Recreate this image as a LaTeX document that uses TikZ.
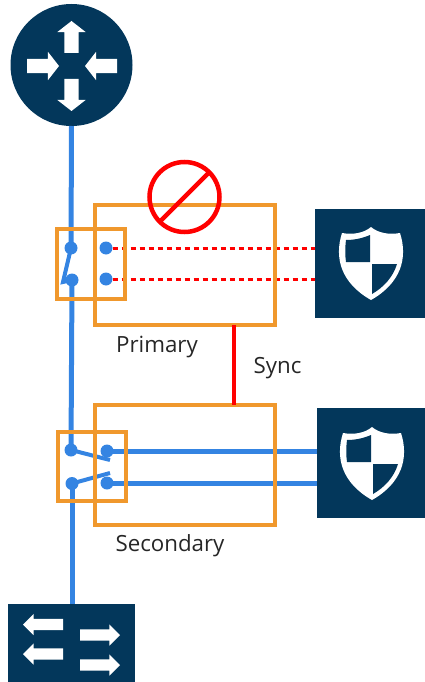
\documentclass[tikz,border=0pt]{standalone}
\usepackage{fontspec}
\setmainfont{Open Sans}
\usetikzlibrary{shapes.arrows, positioning}
\definecolor{navy}{HTML}{03375B}
\definecolor{linkblue}{HTML}{3484E2}
\definecolor{boxorange}{HTML}{F0982D}
\tikzset{
    device/.style={rectangle, fill=navy, outer sep=0pt, inner sep=0pt},
    hugebox/.style={rectangle, draw=boxorange, line width=3.5pt, outer sep=0pt, inner sep=0pt, minimum width=180pt, minimum height=120pt},
    switchbox/.style={rectangle, draw=boxorange, line width=3.5pt, outer sep=0pt, inner sep=0pt, minimum width=68pt, minimum height=70pt},
    port/.style={circle, fill=linkblue, minimum size=13pt, inner sep=0pt, outer sep=0pt},
    bluelink/.style={draw=linkblue, line width=5pt},
    dashedlink/.style={draw=red, line width=3pt, dash pattern=on 5pt off 4pt},
    routerarrow/.style={single arrow, fill=white, inner sep=7pt, outer sep=0pt, single arrow head extend=7pt, single arrow tip angle=104, minimum height=32pt, anchor=tip},
    flowarrow/.style={single arrow, fill=white, inner sep=5.5pt, outer sep=0pt, single arrow head extend=5pt, single arrow tip angle=90, minimum height=40pt, anchor=tip},
    caption/.style={font=\fontsize{22.3}{26}\selectfont, text=black!85, inner sep=0pt, anchor=base},
    shield/.pic={
        \fill[white] (0,-36) .. controls (-7,-30) and (-18,-28) .. (-29,-30) .. controls (-37,-5) and (-30,20) .. (0,37)
            .. controls (30,20) and (37,-5) .. (29,-30) .. controls (18,-28) and (7,-30) .. (0,-36) -- cycle;
        \fill[navy] (-1,-28) .. controls (-8,-25) and (-16,-23) .. (-25,-23) .. controls (-26,-15) and (-26,-8) .. (-25,-1) -- (-1,-1) -- cycle;
        \fill[navy] (1,1) -- (26,1) .. controls (22,14) and (13,24) .. (1,31) -- cycle;
    },
}
\begin{document}
\begin{tikzpicture}[x=1pt,y=-1pt]
\useasboundingbox (0,0) rectangle (425,682);
% devices
\node[device,circle,minimum size=122pt] (router) at (71.5,65) {};
\node[routerarrow,rotate=90] (rup) at (71.5,21) {};
\node[routerarrow,rotate=-90] (rdown) at (71.5,111) {};
\node[routerarrow] (rright) at (59,66) {};
\node[routerarrow,rotate=180] (rleft) at (85,66) {};
\node[device,minimum width=110pt,minimum height=109pt] (fwa) at (370,263.5) {};
\pic at (371,263) {shield};
\node[device,minimum width=108pt,minimum height=110pt] (fwb) at (371,463) {};
\pic at (372,463) {shield};
\node[device,minimum width=127pt,minimum height=78pt] (lan) at (71.5,643) {};
\node[flowarrow,rotate=180] (la) at (23,624.5) {};
\node[flowarrow,rotate=180] (lb) at (23,654) {};
\node[flowarrow] (lc) at (120,635) {};
\node[flowarrow] (ld) at (120,665) {};
% ports
\node[port] (pl1) at (71,248) {};
\node[port] (pl2) at (72,280) {};
\node[port] (pr1) at (106,248) {};
\node[port] (pr2) at (106,279) {};
\node[port] (sl1) at (71,450) {};
\node[port] (sl2) at (72,483.5) {};
\node[port] (sr1) at (107,451) {};
\node[port] (sr2) at (107,483) {};
\coordinate (parm) at (63,282);
\coordinate (sarma) at (110,460);
\coordinate (sarmb) at (110,473);
% links
\draw[bluelink] (router.south) -- (pl1.center);
\draw[bluelink,line width=4pt] (pl1.center) -- (parm) -- (pl2.center);
\draw[bluelink] (pl2.center) -- (sl1.center);
\draw[bluelink,line width=4pt] (sl1.center) -- (sarma);
\draw[bluelink,line width=4pt] (sl2.center) -- (sarmb);
\draw[bluelink] (sl2.center) -- (lan.north -| sl2);
\draw[bluelink] (sr1.center) -- (fwb.west |- sr1);
\draw[bluelink] (sr2.center) -- (fwb.west |- sr2);
\draw[dashedlink] (pr1.east) -- (fwa.west |- pr1);
\draw[dashedlink] (pr2.east) -- (fwa.west |- pr2);
% boxes
\node[hugebox] (primary) at (185,265) {};
\node[hugebox] (secondary) at (185,465) {};
\node[switchbox] (pswitch) at (91,264) {};
\node[switchbox,minimum height=69pt] (sswitch) at (92,466.5) {};
\draw[draw=red,line width=4pt] (primary.south -| 234,0) -- (secondary.north -| 234,0);
% labels
\node[caption] (plabel) at (157,352) {Primary};
\node[caption] (slabel) at (170,551.5) {Secondary};
\node[caption] (sync) at (277.5,373) {Sync};
% out of service
\node[circle,draw=red,line width=4.5pt,minimum size=70pt,inner sep=0pt,outer sep=0pt] (stop) at (184.5,197) {};
\draw[draw=red,line width=4.5pt] (stop.225) -- (stop.45);
\end{tikzpicture}
\end{document}
